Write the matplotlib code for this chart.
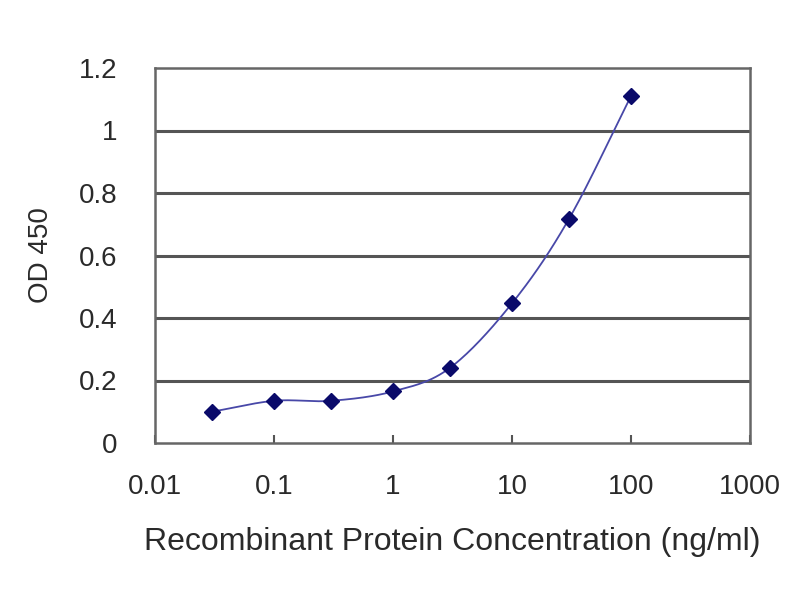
import numpy as np
import matplotlib
matplotlib.use("Agg")
import matplotlib.pyplot as plt

conc = [0.03, 0.1, 0.3, 1, 3, 10, 30, 100]
od = [0.10, 0.135, 0.135, 0.165, 0.24, 0.447, 0.716, 1.11]
x_ticks = [0.01, 0.1, 1, 10, 100, 1000]
x_tick_labels = ["0.01", "0.1", "1", "10", "100", "1000"]
y_ticks = [0, 0.2, 0.4, 0.6, 0.8, 1.0, 1.2]
y_tick_labels = ["0", "0.2", "0.4", "0.6", "0.8", "1", "1.2"]

plt.rcParams['font.family'] = ['Liberation Sans', 'DejaVu Sans']

fig = plt.figure(figsize=(8, 6), dpi=100)
ax = fig.add_axes([155 / 800, 1 - 443 / 600, 595 / 800, 375 / 600])
ax.set_xscale('log')
ax.set_xlim(0.01, 1000)
ax.set_ylim(0, 1.2)

# smoothed line (Catmull-Rom in log-x space), like a spreadsheet smooth line
lx = np.log10(conc)
yy = np.array(od)
P = np.column_stack([lx, yy])
P_ext = np.vstack([2 * P[0] - P[1], P, 2 * P[-1] - P[-2]])
seg = []
t = np.linspace(0, 1, 30)
for i in range(1, len(P_ext) - 2):
    p0, p1, p2, p3 = P_ext[i - 1], P_ext[i], P_ext[i + 1], P_ext[i + 2]
    c = 0.5 * (np.outer(2 * np.ones_like(t), p1)
               + np.outer(t, -p0 + p2)
               + np.outer(t ** 2, 2 * p0 - 5 * p1 + 4 * p2 - p3)
               + np.outer(t ** 3, -p0 + 3 * p1 - 3 * p2 + p3))
    seg.append(c)
curve = np.vstack(seg)
ax.plot(10 ** curve[:, 0], curve[:, 1], color='#4848a8', lw=1.3, zorder=3)
ax.plot(conc, od, linestyle='none', marker='D', markersize=8.5,
        color='#0a0a6a', zorder=4)

for v in y_ticks[1:-1]:
    ax.axhline(v, color='#555555', lw=2.2, zorder=1)

for s in ax.spines.values():
    s.set_color('#666666')
    s.set_linewidth(1.8)

ax.set_xticks(x_ticks)
ax.set_xticklabels(x_tick_labels)
ax.xaxis.set_minor_locator(matplotlib.ticker.NullLocator())
ax.set_yticks(y_ticks)
ax.set_yticklabels(y_tick_labels)
ax.tick_params(axis='x', direction='in', length=6, width=1.5, color='#555555',
               labelsize=20, labelcolor='#2a2a2a', pad=22)
ax.tick_params(axis='y', length=0, labelsize=20, labelcolor='#2a2a2a', pad=27)

ax.set_xlabel("Recombinant Protein Concentration (ng/ml)", fontsize=23,
              color='#2a2a2a', labelpad=20)
ax.set_ylabel("OD 450", fontsize=20, color='#2a2a2a', labelpad=18)

fig.savefig("out.png", dpi=100)
